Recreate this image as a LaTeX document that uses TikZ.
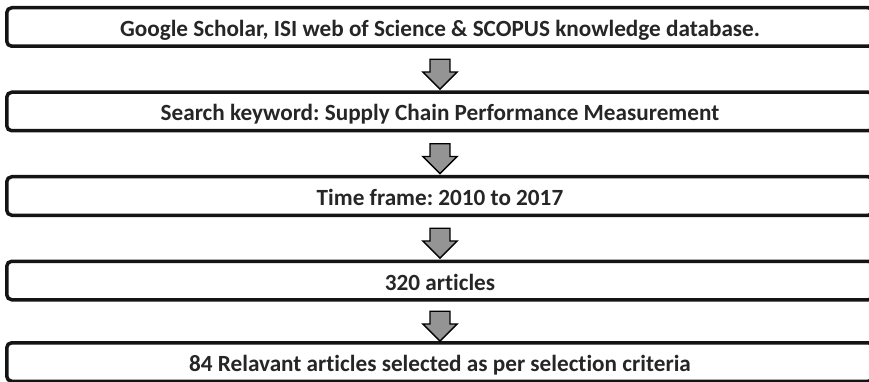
\documentclass[tikz,border=0pt]{standalone}
\usepackage{fontspec}
\setmainfont{Carlito}[Ligatures=NoCommon]
\frenchspacing
\usetikzlibrary{shapes.arrows}
\usetikzlibrary{calc}

\tikzset{
  stage/.style={draw=black!92, line width=3.5pt, rounded corners=5pt, fill=white,
    minimum width=866.5pt, minimum height=38.5pt, inner sep=0pt,
    font=\bfseries\fontsize{23.2}{26}\selectfont, text=black!85,
    text height=19pt, text depth=0pt},
  downarrow/.style={single arrow, draw=black, line width=1.3pt, fill=black!42,
    inner sep=9.3pt, minimum height=22pt, single arrow head extend=7.25pt, rotate=-90}
}

\begin{document}
\begin{tikzpicture}[x=1pt, y=-1pt]
\useasboundingbox (0,0) rectangle (869,382);
\node[stage] (db) at (440, 27) {Google Scholar, ISI web of Science \& SCOPUS knowledge database.};
\node[stage] (kw) at (440, 111.5) {Search keyword: Supply Chain Performance Measurement};
\node[stage] (tf) at (440, 196) {Time frame: 2010 to 2017};
\node[stage] (art) at (440, 280.5) {320 articles};
\node[stage] (sel) at (440, 362) {84 Relavant articles selected as per selection criteria};

\foreach \a/\b in {db/kw, kw/tf, tf/art, art/sel} {
	\node[downarrow] (arr\a) at ($(\a.south)!0.5!(\b.north)$) {};
	};
\end{tikzpicture}
\end{document}
